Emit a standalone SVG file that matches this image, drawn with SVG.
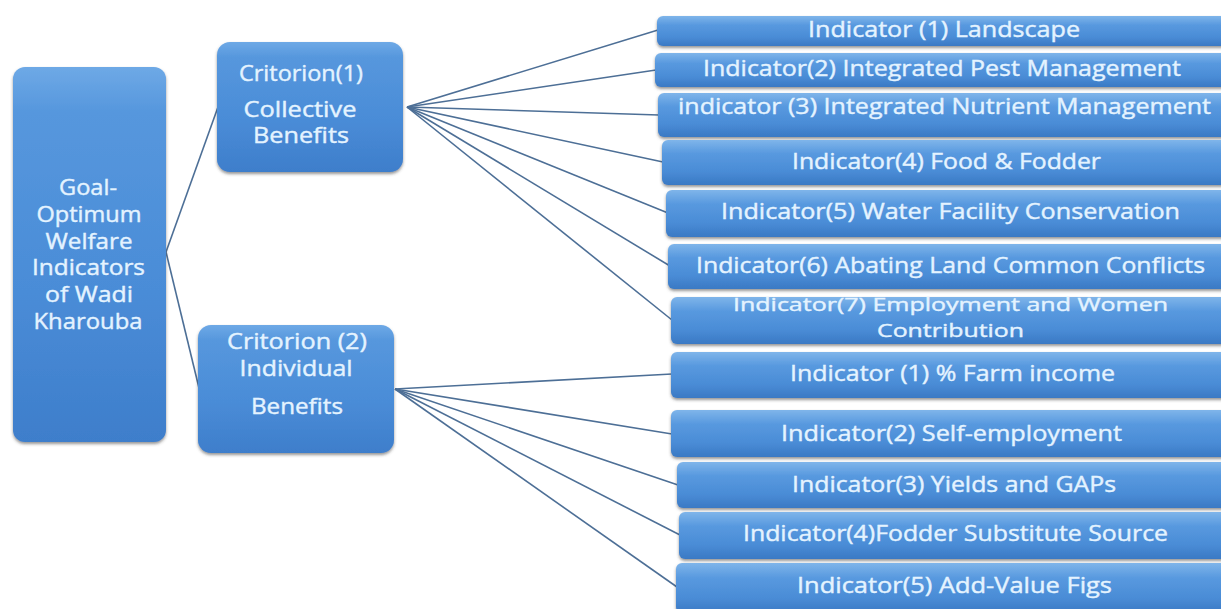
<svg xmlns="http://www.w3.org/2000/svg" width="1221" height="609" viewBox="0 0 1221 609">
<defs>
<linearGradient id="gBar" x1="0" y1="0" x2="0" y2="1">
<stop offset="0" stop-color="#7fb5ea"/>
<stop offset="0.3" stop-color="#5899df"/>
<stop offset="0.7" stop-color="#4a8cd6"/>
<stop offset="1" stop-color="#3a79c4"/>
</linearGradient>
<linearGradient id="gTall" x1="0" y1="0" x2="0" y2="1">
<stop offset="0" stop-color="#6ea9e6"/>
<stop offset="0.12" stop-color="#5697dd"/>
<stop offset="0.6" stop-color="#4a8cd7"/>
<stop offset="1" stop-color="#3e7ecb"/>
</linearGradient>
<filter id="sh" x="-5%" y="-10%" width="110%" height="130%">
<feDropShadow dx="0" dy="2" stdDeviation="1.6" flood-color="#404040" flood-opacity="0.55"/>
</filter>
</defs>
<style>
.bar{fill:url(#gBar);filter:url(#sh)}
.big{fill:url(#gTall);filter:url(#sh)}
text{font-family:"Open Sans","Liberation Sans",sans-serif;font-size:21px;font-weight:400;fill:#e4f3ff;stroke:#e4f3ff;stroke-width:0.4;text-anchor:middle}
.sm{font-size:19px}
.c line{stroke:#4d6f96;stroke-width:1.6}
</style>
<rect width="1221" height="609" fill="#ffffff"/>
<g class="c" id="connectors">
<line x1="166" y1="252" x2="218" y2="107"/>
<line x1="166" y1="252" x2="199" y2="388"/>
<line x1="407" y1="107" x2="658" y2="30"/>
<line x1="407" y1="107" x2="656" y2="70"/>
<line x1="407" y1="107" x2="659" y2="115"/>
<line x1="407" y1="107" x2="663" y2="162"/>
<line x1="407" y1="107" x2="668" y2="213"/>
<line x1="407" y1="107" x2="670" y2="266"/>
<line x1="407" y1="107" x2="672" y2="320"/>
<line x1="395" y1="389" x2="672" y2="374"/>
<line x1="395" y1="389" x2="672" y2="434"/>
<line x1="395" y1="389" x2="678" y2="485"/>
<line x1="395" y1="389" x2="680" y2="535"/>
<line x1="395" y1="389" x2="677" y2="587"/>
</g>
<g id="goal"><rect class="big" x="13" y="67" width="153" height="375" rx="12"/>
<text x="88" y="195" textLength="58" lengthAdjust="spacingAndGlyphs">Goal-</text>
<text x="89" y="222" textLength="105" lengthAdjust="spacingAndGlyphs">Optimum</text>
<text x="89" y="249" textLength="87" lengthAdjust="spacingAndGlyphs">Welfare</text>
<text x="88.5" y="275" textLength="113" lengthAdjust="spacingAndGlyphs">Indicators</text>
<text x="89" y="302" textLength="88" lengthAdjust="spacingAndGlyphs">of Wadi</text>
<text x="88" y="329" textLength="109" lengthAdjust="spacingAndGlyphs">Kharouba</text>
</g>
<g id="crit1"><rect class="big" x="217" y="42" width="186" height="130" rx="13"/>
<text x="301" y="81" textLength="124" lengthAdjust="spacingAndGlyphs">Critorion(1)</text>
<text x="300" y="117" textLength="113" lengthAdjust="spacingAndGlyphs">Collective</text>
<text x="301" y="143" textLength="96" lengthAdjust="spacingAndGlyphs">Benefits</text>
</g>
<g id="crit2"><rect class="big" x="198" y="325" width="196" height="128" rx="13"/>
<text x="297" y="349" textLength="140" lengthAdjust="spacingAndGlyphs">Critorion (2)</text>
<text x="296" y="376" textLength="113" lengthAdjust="spacingAndGlyphs">Individual</text>
<text x="297" y="414" textLength="92" lengthAdjust="spacingAndGlyphs">Benefits</text>
</g>
<g id="c1i1"><rect class="bar" x="657" y="16" width="580" height="30" rx="6"/>
<text x="944" y="37" textLength="272" lengthAdjust="spacingAndGlyphs">Indicator (1) Landscape</text></g>
<g id="c1i2"><rect class="bar" x="655" y="53" width="582" height="34" rx="6"/>
<text x="942" y="76" textLength="478" lengthAdjust="spacingAndGlyphs">Indicator(2) Integrated Pest Management</text></g>
<g id="c1i3"><rect class="bar" x="658" y="93" width="579" height="44" rx="6"/>
<text x="944.5" y="114" textLength="533" lengthAdjust="spacingAndGlyphs">indicator (3) Integrated Nutrient Management</text></g>
<g id="c1i4"><rect class="bar" x="662" y="140" width="575" height="45" rx="6"/>
<text x="946.5" y="169" textLength="309" lengthAdjust="spacingAndGlyphs">Indicator(4) Food &amp; Fodder</text></g>
<g id="c1i5"><rect class="bar" x="666" y="190" width="571" height="47" rx="6"/>
<text x="950.5" y="219" textLength="459" lengthAdjust="spacingAndGlyphs">Indicator(5) Water Facility Conservation</text></g>
<g id="c1i6"><rect class="bar" x="668" y="244" width="569" height="45" rx="6"/>
<text x="950.5" y="273" textLength="509" lengthAdjust="spacingAndGlyphs">Indicator(6) Abating Land Common Conflicts</text></g>
<g id="c1i7"><rect class="bar" x="671" y="297" width="566" height="47" rx="6"/>
<text class="sm" x="950.5" y="311" textLength="435" lengthAdjust="spacingAndGlyphs">Indicator(7) Employment and Women</text>
<text class="sm" x="950.5" y="337" textLength="147" lengthAdjust="spacingAndGlyphs">Contribution</text></g>
<g id="c2i1"><rect class="bar" x="671" y="352" width="566" height="46" rx="6"/>
<text x="952.5" y="381" textLength="325" lengthAdjust="spacingAndGlyphs">Indicator (1) % Farm income</text></g>
<g id="c2i2"><rect class="bar" x="671" y="410" width="566" height="47" rx="6"/>
<text x="951.5" y="441" textLength="341" lengthAdjust="spacingAndGlyphs">Indicator(2) Self-employment</text></g>
<g id="c2i3"><rect class="bar" x="677" y="462" width="560" height="46" rx="6"/>
<text x="954" y="492" textLength="324" lengthAdjust="spacingAndGlyphs">Indicator(3) Yields and GAPs</text></g>
<g id="c2i4"><rect class="bar" x="679" y="512" width="558" height="47" rx="6"/>
<text x="955.5" y="541" textLength="425" lengthAdjust="spacingAndGlyphs">Indicator(4)Fodder Substitute Source</text></g>
<g id="c2i5"><rect class="bar" x="676" y="563" width="561" height="50" rx="6"/>
<text x="954.5" y="593" textLength="315" lengthAdjust="spacingAndGlyphs">Indicator(5) Add-Value Figs</text></g>
</svg>
